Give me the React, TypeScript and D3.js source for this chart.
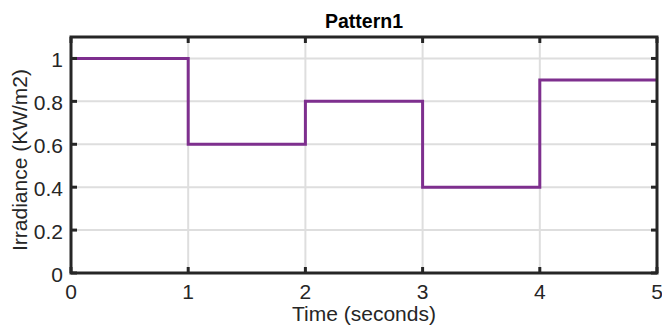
import * as d3 from "d3";

const times = [0, 1, 2, 3, 4, 5];
const irradiance = [1, 0.6, 0.8, 0.4, 0.9, 0.9];
const xTicks = [0, 1, 2, 3, 4, 5];
const yTicks = [0, 0.2, 0.4, 0.6, 0.8, 1];

const W = 662;
const H = 327;
const margin = { top: 37, right: 5, bottom: 54, left: 71 };

export default function App() {
  const x = d3
    .scaleLinear()
    .domain([0, 5])
    .range([margin.left, W - margin.right]);
  const y = d3
    .scaleLinear()
    .domain([0, 1.1])
    .range([H - margin.bottom, margin.top]);

  const pts: [number, number][] = times.map((t, i) => [t, irradiance[i]]);
  const line = d3
    .line<[number, number]>()
    .x((d) => x(d[0]))
    .y((d) => y(d[1]))
    .curve(d3.curveStepAfter);

  const x0 = x.range()[0];
  const x1 = x.range()[1];
  const y0 = y.range()[0];
  const y1 = y.range()[1];
  const font = "'Liberation Sans', Arial, sans-serif";
  const axisColor = "#262626";

  return (
    <svg
      width={W}
      height={H}
      style={{ position: "absolute", left: 0, top: 0, background: "#fff" }}
      fontFamily={font}
    >
      {/* grid */}
      {xTicks.map((t) => (
        <line key={"gx" + t} x1={x(t)} x2={x(t)} y1={y0} y2={y1} stroke="#dedede" strokeWidth={2} />
      ))}
      {yTicks.map((t) => (
        <line key={"gy" + t} x1={x0} x2={x1} y1={y(t)} y2={y(t)} stroke="#dedede" strokeWidth={2} />
      ))}

      <path d={line(pts) || ""} fill="none" stroke="#7E2F8E" strokeWidth={3} />

      {/* box */}
      <rect x={x0} y={y1} width={x1 - x0} height={y0 - y1} fill="none" stroke={axisColor} strokeWidth={3} />

      {/* ticks */}
      {xTicks.map((t) => (
        <g key={"tx" + t}>
          <line x1={x(t)} x2={x(t)} y1={y0} y2={y0 - 6} stroke={axisColor} strokeWidth={3} />
          <line x1={x(t)} x2={x(t)} y1={y1} y2={y1 + 6} stroke={axisColor} strokeWidth={3} />
          <text x={x(t)} y={y0 + 26} textAnchor="middle" fontSize={21} fill={axisColor}>
            {t}
          </text>
        </g>
      ))}
      {yTicks.map((t) => (
        <g key={"ty" + t}>
          <line x1={x0} x2={x0 + 6} y1={y(t)} y2={y(t)} stroke={axisColor} strokeWidth={3} />
          <line x1={x1} x2={x1 - 6} y1={y(t)} y2={y(t)} stroke={axisColor} strokeWidth={3} />
          <text x={x0 - 8} y={y(t) + 9} textAnchor="end" fontSize={21} fill={axisColor}>
            {t}
          </text>
        </g>
      ))}

      <text x={(x0 + x1) / 2} y={28} textAnchor="middle" fontSize={19.5} fontWeight="bold" fill="#000">
        Pattern1
      </text>
      <text x={(x0 + x1) / 2} y={321} textAnchor="middle" fontSize={21} fill={axisColor}>
        Time (seconds)
      </text>
      <text
        transform={`translate(27,160) rotate(-90)`}
        textAnchor="middle"
        fontSize={21}
        fill={axisColor}
      >
        Irradiance (KW/m2)
      </text>
    </svg>
  );
}
